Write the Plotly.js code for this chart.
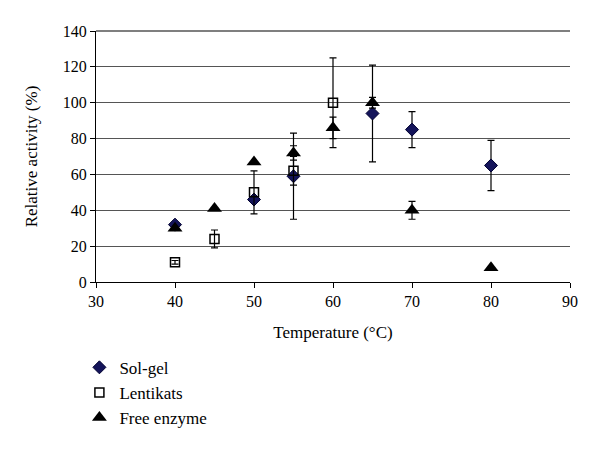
<!DOCTYPE html>
<html><head><meta charset="utf-8">
<script src="https://cdn.plot.ly/plotly-3.0.1.min.js"></script>
<style>html,body{margin:0;padding:0;background:#fff}#chart{width:600px;height:452px}</style>
</head><body><div id="chart"></div>
<script>
const solGelT = [40, 50, 55, 65, 70, 80];
const solGelY = [32, 46, 59, 94, 85, 65];
const solGelErr = [0, 0, 24, 27, 10, 14];

const lentT = [40, 45, 50, 55, 60];
const lentY = [11, 24, 50, 62, 100];
const lentErr = [1, 5, 12, 8, 25];

const freeT = [40, 45, 50, 55, 60, 65, 70, 80];
const freeY = [30, 41, 67, 72, 86, 100, 40, 8];
const freeErr = [0, 0, 0, 4, 6, 3, 5, 0];

const font = "Liberation Serif, Times New Roman, serif";
const eb = (a) => ({type: 'data', array: a, visible: true, color: '#000', thickness: 1.2, width: 3.5});

const traces = [
  {x: solGelT, y: solGelY, name: 'Sol-gel', type: 'scatter', mode: 'markers',
   marker: {symbol: 'diamond', size: 10, color: '#14145a', line: {color: '#000030', width: 1}},
   error_y: eb(solGelErr)},
  {x: lentT, y: lentY, name: 'Lentikats', type: 'scatter', mode: 'markers',
   marker: {symbol: 'square-open', size: 9, color: '#000', line: {width: 1.5}},
   error_y: eb(lentErr)},
  {x: freeT, y: freeY, name: 'Free enzyme', type: 'scatter', mode: 'markers',
   marker: {symbol: 'triangle-up', size: 13, color: '#000'},
   error_y: eb(freeErr)}
];

const layout = {
  width: 600, height: 452,
  margin: {l: 96, r: 30, t: 31, b: 170},
  paper_bgcolor: '#fff', plot_bgcolor: '#fff',
  font: {family: font, size: 16, color: '#000'},
  showlegend: true,
  legend: {x: -0.035, y: -0.27, xanchor: 'left', yanchor: 'top', font: {family: font, size: 17}, traceorder: 'normal', tracegroupgap: 0, itemwidth: 30},
  xaxis: {range: [30, 90], dtick: 10, tick0: 30, showgrid: false, zeroline: false,
          showline: true, linecolor: '#000', linewidth: 1, ticks: 'outside', ticklen: 5, tickcolor: '#000',
          title: {text: 'Temperature (°C)', font: {family: font, size: 17}, standoff: 16},
          tickfont: {family: font, size: 16}},
  yaxis: {range: [0, 140], dtick: 20, showgrid: true, gridcolor: '#555', gridwidth: 1, zeroline: false,
          showline: true, linecolor: '#000', linewidth: 1, ticks: 'outside', ticklen: 5, tickcolor: '#000',
          title: {text: 'Relative activity (%)', font: {family: font, size: 17}, standoff: 20},
          tickfont: {family: font, size: 16}},
  shapes: [{type: 'line', xref: 'paper', yref: 'paper', x0: 0, x1: 1, y0: 1, y1: 1, line: {color: '#000', width: 1.2}}]
};

Plotly.newPlot('chart', traces, layout, {displayModeBar: false, staticPlot: true});
</script></body></html>
